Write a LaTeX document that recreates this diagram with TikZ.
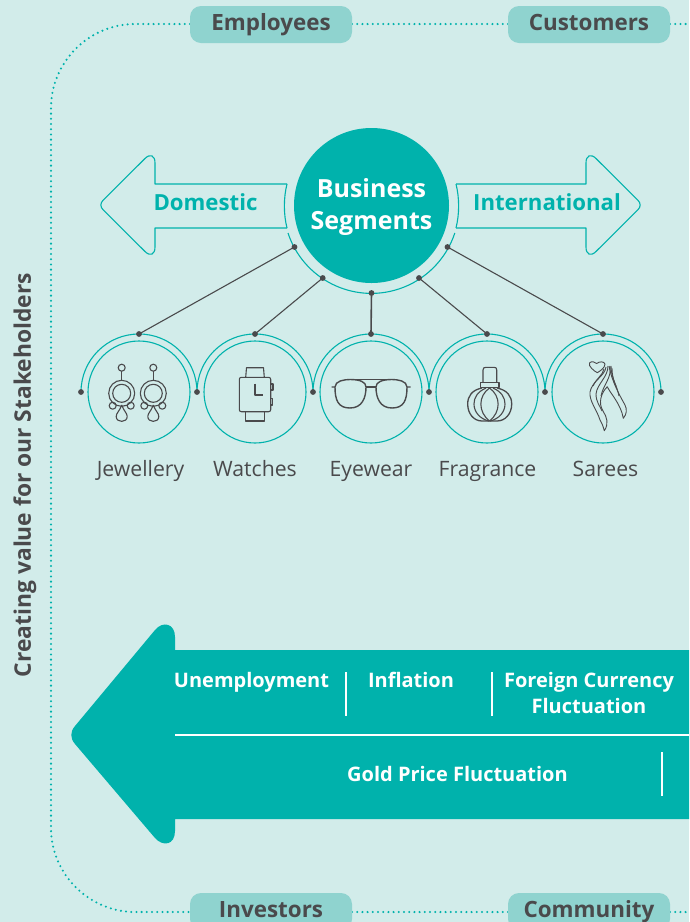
\documentclass[tikz,border=0pt]{standalone}
\usepackage{fontspec}
\setmainfont{Open Sans}
\usetikzlibrary{calc}
\definecolor{bgc}{HTML}{D2ECEA}
\definecolor{teal1}{HTML}{00B2AC}
\definecolor{pillc}{HTML}{8FD3CF}
\definecolor{ink}{HTML}{4A4A4C}
\tikzset{
 pill/.style={fill=pillc,rounded corners=11pt,minimum width=162pt,minimum height=37pt,inner sep=0pt,text=ink,text height=16pt,text depth=5pt,font=\fontsize{22.4}{24}\selectfont\bfseries},
 dotline/.style={teal1,line width=2.3pt,line cap=round,dash pattern=on 0pt off 5.2pt},
 ring/.style={draw=teal1,line width=1.1pt},
 hub/.style={circle,fill=ink,inner sep=0pt,minimum size=5.8pt},
 link/.style={ink,line width=1.1pt},
 icon/.style={ink,line width=1.1pt,line join=round},
 lab/.style={text=ink,font=\fontsize{21.2}{24}\selectfont,anchor=base},
 outl/.style={draw=teal1,line width=1.1pt,line join=round},
 head/.style={text=teal1,anchor=base,font=\fontsize{22.2}{24}\selectfont\bfseries},
 wtxt/.style={text=white,anchor=base,font=\fontsize{20}{25.5}\selectfont\bfseries,align=center},
 wline/.style={white,line width=1.4pt}
}
\begin{document}
\begin{tikzpicture}[x=1pt,y=-1pt]
\useasboundingbox (0,0) rectangle (689,922);
\fill[bgc] (0,0) rectangle (689,922);
\clip (0,0) rectangle (689,922);
% dotted frame
\coordinate (re) at (689,24);
\coordinate (rb) at (689,912);
\draw[dotline] (190,24) -- (135,24) .. controls (89,24) and (51,62) .. (51,108) -- (51,828) .. controls (51,874) and (89,912) .. (135,912) -- (190,912);
\draw[dotline] (352,24) -- (508,24);
\draw[dotline] (670,24) -- (re);
\draw[dotline] (352,912) -- (508,912);
\draw[dotline] (670,912) -- (rb);
\node[pill] (emp) at (271,24.5) {Employees};
\node[pill] (cus) at (589,24.5) {Customers};
\node[pill] (inv) at (271,911.5) {Investors};
\node[pill] (com) at (589,911.5) {Community};
\node[rotate=90,text=ink,font=\fontsize{22.8}{24}\selectfont\bfseries] (side) at (25,475) {Creating value for our Stakeholders};
% business circle
\node[circle,fill=teal1,minimum size=155pt,inner sep=0pt] (biz) at (371.5,205.5) {};
\node[text=white,anchor=base,font=\fontsize{25}{32}\selectfont\bfseries] (bz1) at (371.5,197) {Business};
\node[text=white,anchor=base,font=\fontsize{25}{32}\selectfont\bfseries] (bz2) at (371.5,229) {Segments};
\draw[ring] (288,233) arc[start angle=198.2,end angle=341.8,radius=87.8,y radius=-87.8];
% side arrows
\draw[outl] (287,184) -- (155,184) -- (155,163) .. controls (155,155) and (150,153.5) .. (145,158.5) -- (103.3,200) .. controls (100,203.3) and (100,206.7) .. (103.3,210) -- (145,251.5) .. controls (150,256.5) and (155,255) .. (155,247) -- (155,228) -- (287,228);
\draw[outl] (287,184) .. controls (283.5,198) and (283.5,214) .. (287,228);
\draw[outl] (456,184) -- (586,184) -- (586,163) .. controls (586,155) and (591,153.5) .. (596,158.5) -- (637.7,200) .. controls (641,203.3) and (641,206.7) .. (637.7,210) -- (596,251.5) .. controls (591,256.5) and (586,255) .. (586,247) -- (586,228) -- (456,228);
\draw[outl] (456,184) .. controls (459.5,198) and (459.5,214) .. (456,228);
\node[head] (dom) at (205.5,210.5) {Domestic};
\node[head] (int) at (547,210.5) {International};
% hubs on the business ring
\node[hub] (h1) at (294.5,247) {};
\node[hub] (h2) at (322.7,278) {};
\node[hub] (h3) at (371.5,293) {};
\node[hub] (h4) at (419,278) {};
\node[hub] (h5) at (447.5,247) {};
% segment circles
\foreach \n/\x/\t/\lx in {a/139/Jewellery/140.5,b/255/Watches/255,c/371/Eyewear/371,d/487/Fragrance/487.5,e/603/Sarees/605.5}{
 \node[circle,ring,minimum size=102pt,inner sep=0pt] (c\n) at (\x,392) {};
 \draw[ring] (\x-58,392) arc[start angle=180,end angle=0,radius=58,y radius=-58];
 \node[hub] (t\n) at (\x,334) {};
 \node[hub] (l\n) at (\x-58,392) {};
 \node[lab] (n\n) at (\lx,476) {\t};
}
\node[hub] (le) at (661,392) {};
\draw[link] (h1.center) -- (ta.center);
\draw[link] (h2.center) -- (tb.center);
\draw[link,line width=1.6pt] (h3.center) -- (tc.center);
\draw[link] (h4.center) -- (td.center);
\draw[link] (h5.center) -- (te.center);
% earrings
\foreach \x in {121.7,153.3}{
 \draw[icon] (\x,367.7) circle (3.5);
 \draw[icon] (\x,371.2) -- (\x,380.3);
 \draw[icon] (\x,393.3) circle (13);
 \draw[icon] (\x,393.3) circle (9);
 \draw[icon] (\x-9,405.7) circle (3.5);
 \draw[icon] (\x+9,405.7) circle (3.5);
 \draw[icon] (\x,405) .. controls (\x-2,411) and (\x-5.5,413) .. (\x-5.5,416.5) .. controls (\x-5.5,423) and (\x+5.5,423) .. (\x+5.5,416.5) .. controls (\x+5.5,413) and (\x+2,411) .. (\x,405);
}
% watch
\draw[icon,rounded corners=2pt] (239.3,377.3) rectangle (270.7,411.7);
\draw[icon] (245.7,377.3) -- (246.5,367.7) -- (263.5,367.7) -- (264.3,377.3);
\draw[icon] (245.7,411.7) -- (245.7,421) -- (264.3,421) -- (264.3,411.7);
\draw[icon] (270.7,384) -- (273,384) -- (273,390) -- (270.7,390);
\draw[icon] (270.7,398.5) -- (272.5,398.5) -- (272.5,405) -- (270.7,405);
\draw[icon] (255,383.5) -- (255,395) -- (262.5,395);
% glasses
\draw[icon,line width=1.4pt] (331.5,387) -- (335,387) .. controls (335,400) and (338,408) .. (350,408) .. controls (362,408) and (366,398) .. (366,387) .. controls (366,382) and (360,379.5) .. (350,379.5) .. controls (344,379.5) and (335,381) .. (335,387);
\draw[icon,line width=1.4pt] (410.5,387) -- (407,387) .. controls (407,400) and (404,408) .. (392,408) .. controls (380,408) and (376,398) .. (376,387) .. controls (376,382) and (382,379.5) .. (392,379.5) .. controls (398,379.5) and (407,381) .. (407,387);
\draw[icon,line width=1.4pt] (350,379.5) -- (392,379.5);
\draw[icon] (366,387) -- (376,387);
% perfume
\draw[icon] (483,382.3) -- (483,370) .. controls (483,368) and (484,367.3) .. (486,367.3) -- (494,367.3) .. controls (496,367.3) and (496.7,368) .. (496.7,370) -- (496.7,382.3);
\draw[icon,line width=1.3pt] (480.5,382.3) rectangle (499,387.7);
\draw[icon,line width=1.3pt] (482,388) .. controls (472,390) and (467.7,396) .. (467.7,404) .. controls (467.7,414) and (474,421) .. (482,421) -- (497,421) .. controls (505,421) and (511.7,414) .. (511.7,404) .. controls (511.7,396) and (507,390) .. (497,388);
\draw[icon] (486,388) .. controls (477,392) and (474,398) .. (474,404) .. controls (474,412) and (480,419) .. (489,421);
\draw[icon] (493,388) .. controls (502,392) and (505,398) .. (505,404) .. controls (505,412) and (499,419) .. (490,421);
\draw[icon] (489.5,388) .. controls (478,396) and (478,412) .. (489.5,421) .. controls (501,412) and (501,396) .. (489.5,388);
% saree
\draw[icon,line width=.9pt] (597.3,372.7) .. controls (594,371) and (588,366) .. (589.5,363) .. controls (591,361) and (595,361.5) .. (596.7,363.5) .. controls (599,361.5) and (604,361) .. (605,364) .. controls (605,368) and (600,371) .. (597.3,372.7);
\draw[icon,line width=.9pt] (606,367) .. controls (605,376) and (592,381) .. (590,392) .. controls (589,401) and (597,410) .. (600,420);
\draw[icon,line width=.9pt] (608,366) .. controls (608,377) and (597,384) .. (596,394) .. controls (596,402) and (600,406) .. (602,411);
\draw[icon,line width=.9pt] (610,366) .. controls (612,378) and (603,385) .. (601,396);
\draw[icon,line width=.9pt] (604,369) .. controls (603,375) and (595,380) .. (593,386);
\draw[icon,line width=.9pt] (607.3,386.7) .. controls (601,393) and (598,403) .. (603,411) .. controls (607,417) and (609,424) .. (604.3,430.7) .. controls (603,426) and (602,423) .. (600,420);
\draw[icon,line width=.9pt] (607.3,386.7) .. controls (610,393) and (621,404) .. (623.3,418.3) .. controls (627,414) and (627,409) .. (625,405) .. controls (620,396) and (612,382) .. (609,366);
\draw[icon,line width=.9pt] (611,366) .. controls (611,378) and (617,385) .. (619,396);
\draw[icon,line width=.9pt] (612,368) .. controls (612,376) and (614,382) .. (616,386);
% big arrow
\fill[teal1] (175,650) -- (175,637) .. controls (175,623.5) and (163,620.5) .. (155,630) -- (75,726) .. controls (70,732) and (70,738) .. (75,744) -- (155,838) .. controls (163,847) and (175,845) .. (175,831) -- (175,819) -- (700,819) -- (700,650) -- cycle;
\coordinate (wl) at (175,735);
\coordinate (wr) at (689,735);
\draw[wline] (wl) -- (wr);
\coordinate (v1a) at (346,672); \coordinate (v1b) at (346,716);
\coordinate (v2a) at (492,672); \coordinate (v2b) at (492,716);
\coordinate (v3a) at (662,752); \coordinate (v3b) at (662,796);
\draw[wline] (v1a) -- (v1b);
\draw[wline] (v2a) -- (v2b);
\draw[wline] (v3a) -- (v3b);
\node[wtxt] (u) at (251.5,687) {Unemployment};
\node[wtxt] (f) at (411,687) {Inflation};
\node[wtxt] (fc) at (589,687) {Foreign Currency};
\node[wtxt] (fl) at (589,713) {Fluctuation};
\node[wtxt] (g) at (457.5,781.5) {Gold Price Fluctuation};
\end{tikzpicture}
\end{document}
